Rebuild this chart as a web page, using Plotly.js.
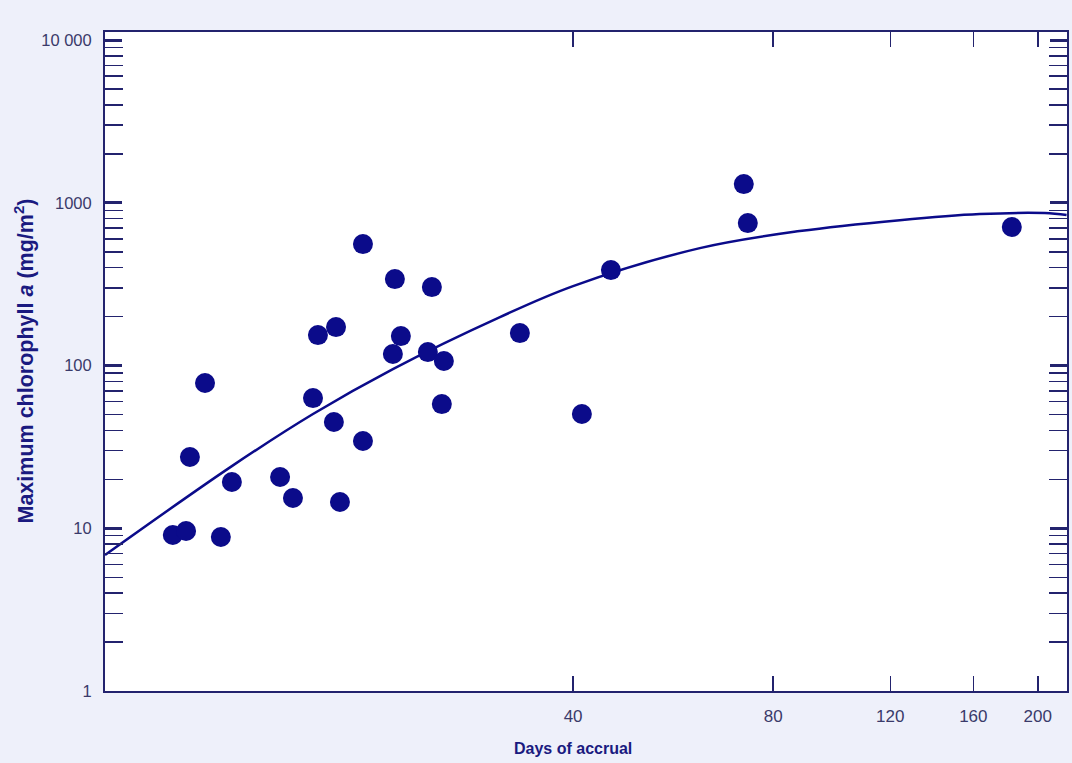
<!DOCTYPE html>
<html>
<head>
<meta charset="utf-8">
<script src="https://cdn.plot.ly/plotly-3.0.1.min.js"></script>
<style>
  html, body { margin: 0; padding: 0; background: #eef0fa; }
  #chart { width: 1072px; height: 763px; }
</style>
</head>
<body>
<div id="chart"></div>
<script>
// Observed data points (days of accrual, maximum chlorophyll a in mg/m²)
const daysObs = [10.0, 10.47, 11.81, 10.61, 11.18, 12.27, 14.50, 15.16, 16.25, 16.53,
                 17.60, 17.47, 17.84, 19.32, 19.32, 21.43, 21.58, 22.03, 24.19, 24.53,
                 25.39, 25.57, 33.27, 41.24, 45.6, 72.25, 73.26, 182.8];
const chlObs  = [9.09, 9.62, 8.84, 27.4, 78.1, 19.24, 20.65, 15.35, 63.1, 154,
                 172.4, 45.0, 14.5, 34.4, 558, 117.7, 340, 151.8, 121, 303.6,
                 58.0, 106.6, 158.4, 50.4, 386, 1304, 751, 710];

// Fitted curve
const daysFit = [7.907, 12.27, 16.25, 21.43, 31.05, 40, 62.05, 87.7, 124, 163.6, 204.9, 221];
const chlFit  = [6.85, 24.1, 50.4, 95.2, 198.6, 308, 527, 671, 783, 853, 865, 841];

// Tick labels
const xTickVals = [40, 80, 120, 160, 200];
const xTickText = ['40', '80', '120', '160', '200'];
const yTickVals = [1, 10, 100, 1000, 10000];
const yTickText = ['1', '10', '100', '1000', '10 000'];
const yMinorVals = [];
[1, 10, 100, 1000].forEach(d => { for (let k = 2; k <= 9; k++) yMinorVals.push(k * d); });

const navy = '#0b0b8a';
const axisCol = '#23236e';
const fontFam = 'Liberation Sans, Arial, sans-serif';

const traces = [
  {
    x: daysFit, y: chlFit, type: 'scatter', mode: 'lines',
    line: { color: navy, width: 2.5, shape: 'spline', smoothing: 1 },
    hoverinfo: 'skip', showlegend: false
  },
  {
    x: daysObs, y: chlObs, type: 'scatter', mode: 'markers',
    marker: { color: navy, size: 20, line: { width: 0 } },
    showlegend: false
  }
];

const layout = {
  width: 1072, height: 763,
  paper_bgcolor: '#eef0fa',
  plot_bgcolor: '#ffffff',
  margin: { l: 105, r: 5, t: 32, b: 72 },
  showlegend: false,
  xaxis: {
    type: 'log',
    range: [0.898, 2.345],
    tickmode: 'array', tickvals: xTickVals, ticktext: xTickText,
    ticks: 'inside', ticklen: 15, tickwidth: 1.5, tickcolor: axisCol,
    showline: true, linecolor: axisCol, linewidth: 2, mirror: 'ticks',
    showgrid: false, zeroline: false,
    tickfont: { family: fontFam, size: 17, color: '#3a3a6a' }, ticklabelstandoff: 9
  },
  yaxis: {
    type: 'log',
    range: [0, 4.05],
    tickmode: 'array', tickvals: yTickVals, ticktext: yTickText,
    ticks: 'inside', ticklen: 17, tickwidth: 3, tickcolor: axisCol,
    minor: { tickmode: 'array', tickvals: yMinorVals, ticks: 'inside', ticklen: 18, tickwidth: 1.5, tickcolor: axisCol, showgrid: false },
    showline: true, linecolor: axisCol, linewidth: 2, mirror: 'ticks',
    showgrid: false, zeroline: false,
    tickfont: { family: fontFam, size: 16.5, color: '#3a3a6a' }, ticklabelstandoff: 8
  },
  annotations: [
    {
      text: '<b>Days of accrual</b>', xref: 'paper', yref: 'paper',
      x: 0.4865, y: 0, yshift: -57, xanchor: 'center', yanchor: 'middle',
      showarrow: false,
      font: { family: fontFam, size: 16, color: '#1a1a80' }
    },
    {
      text: '<b>Maximum chlorophyll <i>a</i> (mg/m<sup>2</sup>)</b>', xref: 'paper', yref: 'paper',
      x: 0, y: 0.5, xshift: -82, xanchor: 'center', yanchor: 'middle', textangle: -90,
      showarrow: false,
      font: { family: fontFam, size: 21.5, color: '#1a1a80' }
    }
  ]
};

Plotly.newPlot('chart', traces, layout, { displayModeBar: false, staticPlot: true });
</script>
</body>
</html>
